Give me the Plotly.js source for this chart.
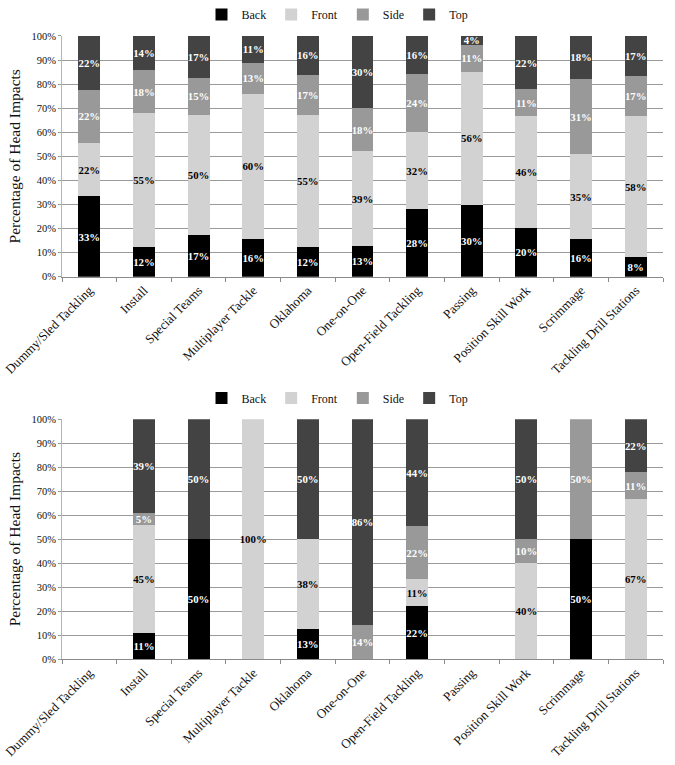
<!DOCTYPE html>
<html>
<head>
<meta charset="utf-8">
<script src="https://cdn.plot.ly/plotly-3.0.1.min.js"></script>
<style>html,body{margin:0;padding:0;background:#fff;}#chart{width:675px;height:765px;}</style>
</head>
<body>
<div id="chart"></div>
<script>
const categories = ['Dummy/Sled Tackling','Install','Special Teams','Multiplayer Tackle','Oklahoma','One-on-One','Open-Field Tackling','Passing','Position Skill Work','Scrimmage','Tackling Drill Stations'];
const seriesNames = ['Back','Front','Side','Top'];
const yTickVals = [0,10,20,30,40,50,60,70,80,90,100];
const yTickText = ['0%','10%','20%','30%','40%','50%','60%','70%','80%','90%','100%'];

// Top chart
const topBack  = [33.3, 12.4, 17.3, 15.6, 12.2, 12.8, 28.0, 29.6, 20.4, 15.6, 8.3];
const topFront = [22.2, 55.4, 49.9, 60.4, 54.9, 39.3, 32.0, 55.6, 46.3, 35.2, 58.3];
const topSide  = [22.2, 18.2, 15.4, 12.9, 16.7, 17.9, 24.0, 11.1, 11.1, 31.3, 16.7];
const topTop   = [22.2, 14.0, 17.4, 11.1, 16.2, 30.0, 16.0, 3.7, 22.2, 17.9, 16.7];

// Bottom chart
const botBack  = [null, 11.1, 50, null, 12.5, null, 22.2, null, null, 50, null];
const botFront = [null, 44.6, null, 100, 37.5, null, 11.1, null, 40, null, 66.7];
const botSide  = [null, 5.3, null, null, null, 14.3, 22.2, null, 10, 50, 11.1];
const botTop   = [null, 39.0, 50, null, 50, 85.7, 44.4, null, 50, null, 22.2];

const fillColors = ['#000000','#d2d2d2','#999999','#434343'];
const textColors = ['#ffffff','#000000','#ffffff','#ffffff'];
const FONT = 'Liberation Serif, Times New Roman, serif';

function makeTraces(series, xa, ya, leg) {
  return series.map((vals, i) => ({
    type: 'bar',
    name: seriesNames[i],
    x: categories,
    y: vals,
    xaxis: xa, yaxis: ya,
    legend: leg,
    marker: {color: fillColors[i], line: {width: 0}},
    texttemplate: '%{y:.0f}%',
    textposition: 'inside',
    insidetextanchor: 'middle',
    constraintext: 'none',
    textangle: 0,
    textfont: {family: FONT, size: 10.8, color: textColors[i], weight: 'bold', shadow: 'none'},
    insidetextfont: {family: FONT, size: 10.8, color: textColors[i], weight: 'bold', shadow: 'none'},
    hoverinfo: 'skip',
    cliponaxis: false
  }));
}

const data = [
  ...makeTraces([topBack, topFront, topSide, topTop], 'x', 'y', 'legend'),
  ...makeTraces([botBack, botFront, botSide, botTop], 'x2', 'y2', 'legend2')
];

const xCommon = {
  type: 'category',
  domain: [62/675, 663/675],
  showline: true, linecolor: '#8a8a8a', linewidth: 1,
  ticks: 'outside', tickson: 'boundaries', ticklen: 4, tickcolor: '#8a8a8a',
  tickangle: -45,
  tickfont: {family: FONT, size: 13, color: '#111'},
  showgrid: false, fixedrange: true
};
const yCommon = {
  range: [0, 100],
  tickvals: yTickVals, ticktext: yTickText,
  tickfont: {family: FONT, size: 10.5, color: '#111'},
  showgrid: true, gridcolor: '#9a9a9a', gridwidth: 1,
  showline: true, linecolor: '#b5b5b5', linewidth: 1,
  ticks: 'outside', ticklen: 3, tickcolor: '#9a9a9a',
  zeroline: false, fixedrange: true,
  title: {text: 'Percentage of Head Impacts', font: {family: FONT, size: 15.5, color: '#111'}, standoff: 6}
};

const layout = {
  width: 675, height: 765,
  margin: {l: 0, r: 0, t: 0, b: 0},
  paper_bgcolor: '#fff', plot_bgcolor: '#fff',
  barmode: 'stack',
  bargap: 0.6,
  font: {family: FONT, color: '#111'},
  xaxis: Object.assign({}, xCommon, {anchor: 'y'}),
  yaxis: Object.assign({}, yCommon, {domain: [(765-276)/765, (765-35)/765], anchor: 'x'}),
  xaxis2: Object.assign({}, xCommon, {anchor: 'y2'}),
  yaxis2: Object.assign({}, yCommon, {domain: [(765-659)/765, (765-418.7)/765], anchor: 'x2'}),
  legend: {orientation: 'h', x: 0.5, xanchor: 'center', y: (765-14)/765, yanchor: 'middle',
           font: {family: FONT, size: 12, color: '#111'}, traceorder: 'normal', itemwidth: 30, bgcolor: 'rgba(0,0,0,0)'},
  legend2: {orientation: 'h', x: 0.5, xanchor: 'center', y: (765-398)/765, yanchor: 'middle',
           font: {family: FONT, size: 12, color: '#111'}, traceorder: 'normal', itemwidth: 30, bgcolor: 'rgba(0,0,0,0)'},
  showlegend: true
};

Plotly.newPlot('chart', data, layout, {displayModeBar: false, staticPlot: true});
</script>
</body>
</html>
